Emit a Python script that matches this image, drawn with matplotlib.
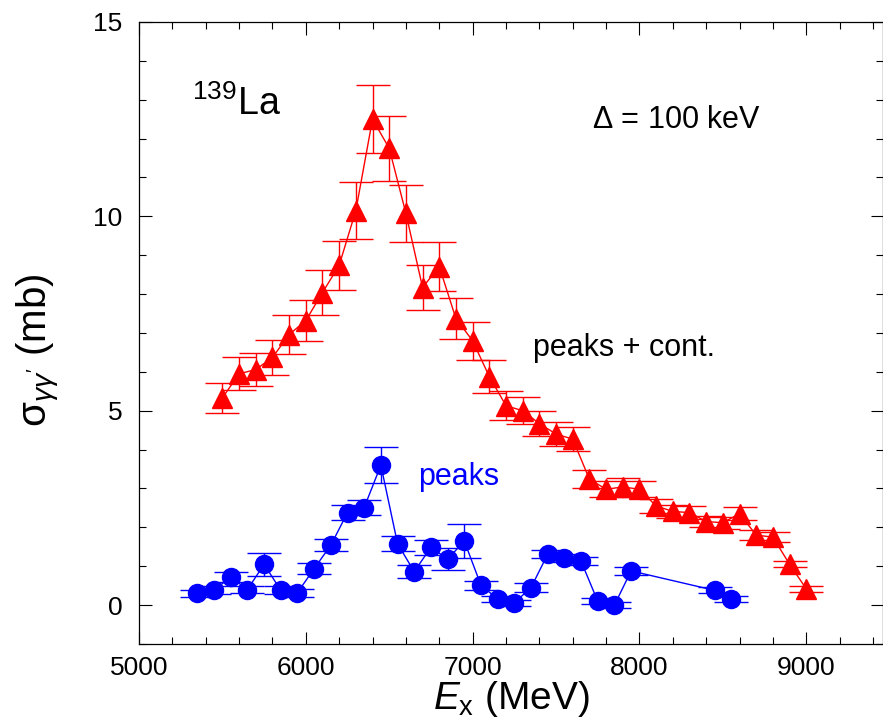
import matplotlib
matplotlib.use("Agg")
import matplotlib.pyplot as plt
from matplotlib.ticker import MultipleLocator

plt.rcParams['font.family'] = ['Liberation Sans', 'DejaVu Sans']
plt.rcParams['mathtext.fontset'] = 'custom'
plt.rcParams['mathtext.rm'] = 'Liberation Sans'
plt.rcParams['mathtext.it'] = 'Liberation Sans:italic'
plt.rcParams['mathtext.bf'] = 'Liberation Sans:bold'

# peaks + continuum (red triangles)
E_total = [5500, 5600, 5700, 5800, 5900, 6000, 6100, 6200, 6300, 6400, 6500,
           6600, 6700, 6800, 6900, 7000, 7100, 7200, 7300, 7400, 7500, 7600,
           7700, 7800, 7900, 8000, 8100, 8200, 8300, 8400, 8500, 8600, 8700,
           8800, 8900, 9000]
sigma_total = [5.33, 5.95, 6.06, 6.37, 6.96, 7.32, 8.04, 8.74, 10.15, 12.5, 11.75,
               10.08, 8.17, 8.71, 7.37, 6.80, 5.88, 5.13, 5.0, 4.67, 4.40, 4.27,
               3.24, 2.98, 3.04, 2.98, 2.55, 2.41, 2.38, 2.15, 2.12, 2.35, 1.80,
               1.75, 1.05, 0.42]
err_total = [0.39, 0.42, 0.42, 0.46, 0.50, 0.52, 0.58, 0.63, 0.73, 0.88, 0.84,
             0.73, 0.59, 0.63, 0.53, 0.49, 0.42, 0.37, 0.35, 0.33, 0.31, 0.30,
             0.24, 0.21, 0.22, 0.21, 0.18, 0.17, 0.17, 0.15, 0.15, 0.17, 0.13,
             0.13, 0.08, 0.08]

# peaks only (blue circles)
E_peaks = [5350, 5450, 5550, 5650, 5750, 5850, 5950, 6050, 6150, 6250, 6350,
           6450, 6550, 6650, 6750, 6850, 6950, 7050, 7150, 7250, 7350, 7450,
           7550, 7650, 7750, 7850, 7950, 8450, 8550]
sigma_peaks = [0.30, 0.39, 0.72, 0.40, 1.05, 0.38, 0.32, 0.94, 1.54, 2.38, 2.51,
               3.60, 1.58, 0.86, 1.49, 1.18, 1.65, 0.51, 0.16, 0.06, 0.45, 1.31,
               1.22, 1.13, 0.10, 0.0, 0.88, 0.38, 0.15]
err_peaks = [0.10, 0.10, 0.12, 0.10, 0.30, 0.10, 0.10, 0.14, 0.16, 0.20, 0.20,
             0.47, 0.20, 0.16, 0.19, 0.28, 0.43, 0.12, 0.08, 0.08, 0.12, 0.10,
             0.10, 0.10, 0.08, 0.08, 0.10, 0.08, 0.08]

RED = '#ff0000'
BLUE = '#0000ff'

fig = plt.figure(figsize=(8.83, 7.21), dpi=100)
ax = fig.add_axes([0.1574, 0.1068, 0.8426, 0.8627])

ax.errorbar(E_total, sigma_total, yerr=err_total, color=RED, marker='^',
            markersize=14, lw=1.0, elinewidth=1.0, capsize=12, capthick=1.0,
            zorder=3)
ax.errorbar(E_peaks, sigma_peaks, yerr=err_peaks, color=BLUE, marker='o',
            markersize=13, lw=1.0, elinewidth=1.0, capsize=12, capthick=1.0,
            zorder=3)

ax.set_xlim(5000, 9460)
ax.set_ylim(-1, 15)
ax.xaxis.set_major_locator(MultipleLocator(1000))
ax.xaxis.set_minor_locator(MultipleLocator(200))
ax.yaxis.set_major_locator(MultipleLocator(5))
ax.yaxis.set_minor_locator(MultipleLocator(1))
ax.tick_params(which='both', direction='in', top=True, right=True,
               labelsize=19, width=0.8)
ax.tick_params(axis='x', pad=9)
ax.tick_params(axis='y', pad=12)
ax.tick_params(which='major', length=9)
ax.tick_params(which='minor', length=5)
for s in ax.spines.values():
    s.set_linewidth(0.9)

ax.set_xlabel(r'$E_{\mathrm{x}}$ (MeV)', fontsize=28)
ax.xaxis.set_label_coords(0.5, -0.056)
ax.set_ylabel(r"σ$_{\gamma\gamma'}$ (mb)", fontsize=29)
ax.yaxis.set_label_coords(-0.104, 0.473)

ax.text(5320, 12.6, r'$^{139}$La', fontsize=27, ha='left', va='baseline')
ax.text(7718, 12.27, r'$\Delta$ = 100 keV', fontsize=22, ha='left', va='baseline')
ax.text(7364, 6.42, 'peaks + cont.', fontsize=22, ha='left', va='baseline')
ax.text(6674, 3.09, 'peaks', fontsize=22, ha='left', va='baseline', color=BLUE)

fig.savefig('out.png', dpi=100)
